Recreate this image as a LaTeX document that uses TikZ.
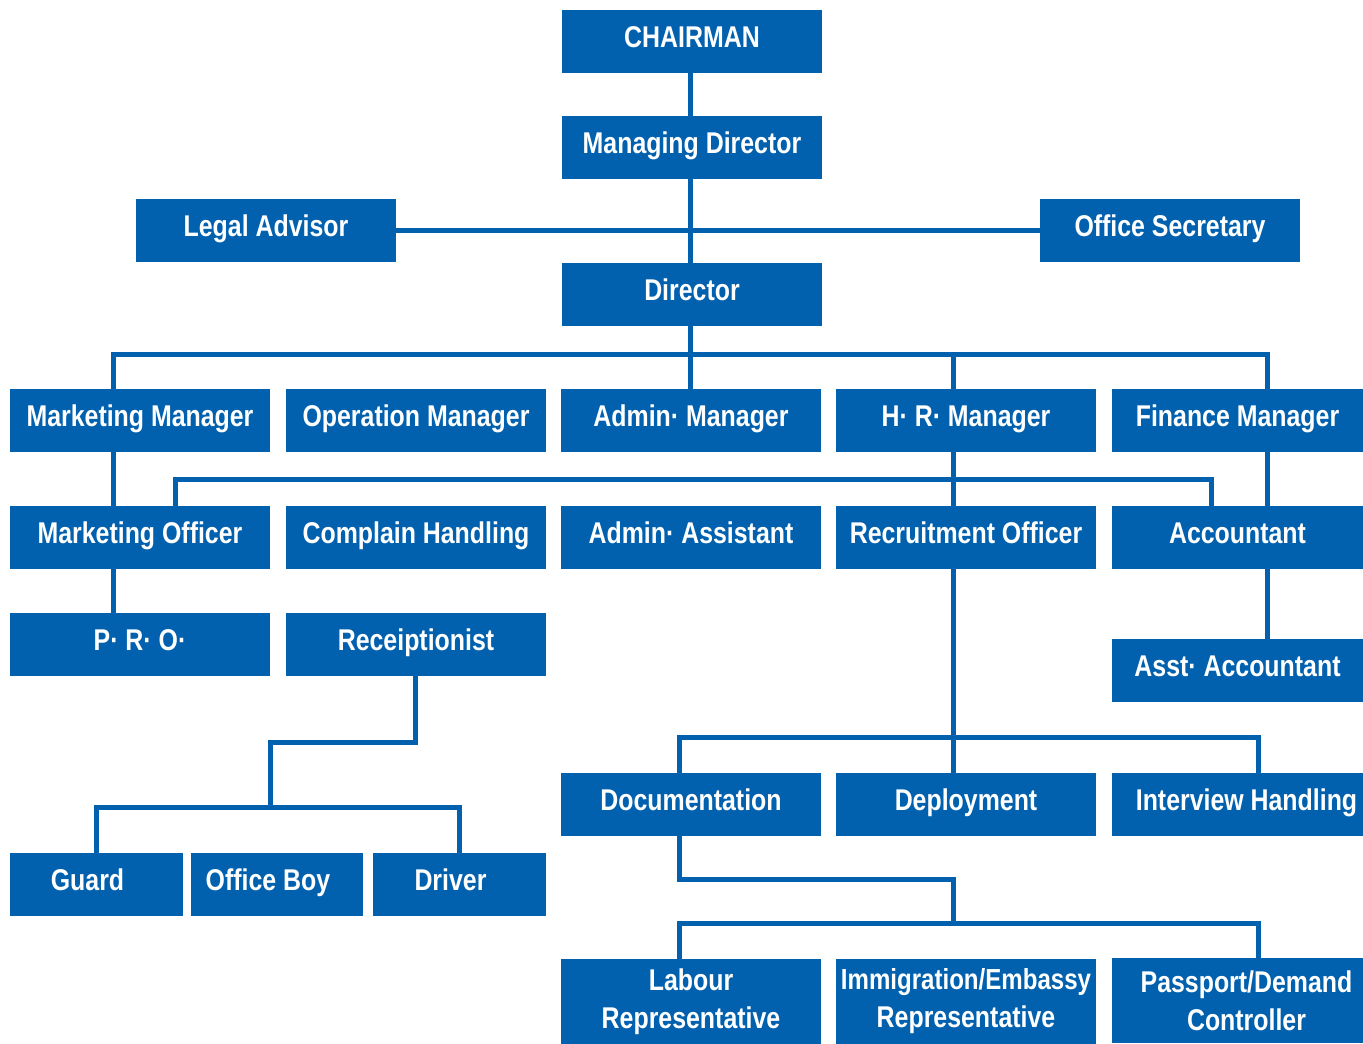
\documentclass[tikz,border=0pt]{standalone}
\usepackage{fontspec}
\newfontfamily\boxfont{Liberation Sans}[FakeStretch=0.83]
\definecolor{orgblue}{RGB}{2,97,174}
\begin{document}
\begin{tikzpicture}[x=1pt,y=-1pt,
  box/.style={fill=orgblue, draw=none, inner sep=0pt, minimum height=63pt,
    minimum width=260pt, text=white,
    font=\boxfont\bfseries\fontsize{30}{38}\selectfont,
    text height=21pt, text depth=9pt},
  twoline/.style={box, minimum height=85pt, align=center, text height=, text depth=},
  link/.style={draw=orgblue, line width=5pt, line join=miter, line cap=butt}]
\useasboundingbox (0,0) rectangle (1363,1044);
% top
\node[box] (chair) at (692,41.5) {CHAIRMAN};
\node[box] (md) at (692,147.5) {Managing Director};
\node[box] (legal) at (266,230.5) {Legal Advisor};
\node[box] (sec) at (1170,230.5) {Office Secretary};
\node[box] (dir) at (692,294.5) {Director};
% row 1
\node[box] (mm) at (140,420.5) {Marketing Manager};
\node[box] (om) at (416,420.5) {Operation Manager};
\node[box] (am) at (691,420.5) {Admin· Manager};
\node[box] (hr) at (966,420.5) {H· R· Manager};
\node[box, minimum width=251pt] (fm) at (1237.5,420.5) {Finance Manager};
% row 2
\node[box] (mo) at (140,537.5) {Marketing Officer};
\node[box] (ch) at (416,537.5) {Complain Handling};
\node[box] (aa) at (691,537.5) {Admin· Assistant};
\node[box] (ro) at (966,537.5) {Recruitment Officer};
\node[box, minimum width=251pt] (acc) at (1237.5,537.5) {Accountant};
% row 3
\node[box] (pro) at (140,644.5) {P· R· O·};
\node[box] (rec) at (416,644.5) {Receiptionist};
\node[box, minimum width=251pt] (asst) at (1237.5,670.5) {Asst· Accountant};
% bottom left
\node[box, minimum width=173pt] (guard) at (96.5,884.5) {\hspace*{-18pt}Guard};
\node[box, minimum width=172pt] (oboy) at (277,884.5) {\hspace*{-18pt}Office Boy};
\node[box, minimum width=173pt] (driver) at (459.5,884.5) {\hspace*{-18pt}Driver};
% bottom right
\node[box] (doc) at (691,804.5) {Documentation};
\node[box] (dep) at (966,804.5) {Deployment};
\node[box, minimum width=251pt] (ih) at (1237.5,804.5) {\hspace*{18pt}Interview Handling};
\node[twoline] (lab) at (691,1001.5) {Labour\\Representative};
\node[twoline, font=\boxfont\bfseries\fontsize{29}{38}\selectfont] (imm) at (966,1001.5) {Immigration/Embassy\\\fontsize{30}{38}\selectfont Representative};
\node[twoline, minimum width=251pt] (pass) at (1237.5,1000.5) {\hspace*{18pt}Passport/Demand\\\hspace*{18pt}Controller};
% helper coordinates
\coordinate (x96) at (96,0);
\coordinate (x113) at (113,0);
\coordinate (x175) at (175,0);
\coordinate (x270) at (270,0);
\coordinate (x415) at (415,0);
\coordinate (x459) at (459,0);
\coordinate (x679) at (679,0);
\coordinate (x953) at (953,0);
\coordinate (x1211) at (1211,0);
\coordinate (x1258) at (1258,0);
\coordinate (x1267) at (1267,0);
\coordinate (y354) at (0,354);
\coordinate (y479) at (0,479);
\coordinate (y742) at (0,742);
\coordinate (y807) at (0,807);
\coordinate (y737) at (0,737);
\coordinate (y879) at (0,879);
\coordinate (y923) at (0,923);
\coordinate (y959) at (0,959);
% connectors
\draw[link] ([xshift=-2pt]chair.south) -- ([xshift=-2pt]md.north);
\draw[link] ([xshift=-2pt]md.south) -- ([xshift=-2pt]dir.north);
\draw[link] (legal.east) -- (sec.west);
\draw[link] ([xshift=-2pt]dir.south) -- ([xshift=-1pt]am.north);
\draw[link] (x113 |- mm.north) |- (x1267 |- y354) -- (x1267 |- fm.north);
\draw[link] (x953 |- hr.north) -- (x953 |- y354);
\draw[link] (x113 |- mm.south) -- (x113 |- mo.north);
\draw[link] (x953 |- hr.south) -- (x953 |- ro.north);
\draw[link] (x175 |- mo.north) |- (x1211 |- y479) -- (x1211 |- acc.north);
\draw[link] (x1267 |- fm.south) -- (x1267 |- acc.north);
\draw[link] (x113 |- mo.south) -- (x113 |- pro.north);
\draw[link] (x415 |- rec.south) |- (x270 |- y742) -- (x270 |- y807);
\draw[link] (x96 |- guard.north) |- (x459 |- y807) -- (x459 |- driver.north);
\draw[link] (x1267 |- acc.south) -- (x1267 |- asst.north);
\draw[link] (x953 |- ro.south) -- (x953 |- dep.north);
\draw[link] (x679 |- doc.north) |- (x1258 |- y737) -- (x1258 |- ih.north);
\draw[link] (x679 |- doc.south) |- (x953 |- y879) -- (x953 |- y923);
\draw[link] (x679 |- y959) |- (x1258 |- y923) -- (x1258 |- y959);
\end{tikzpicture}
\end{document}
